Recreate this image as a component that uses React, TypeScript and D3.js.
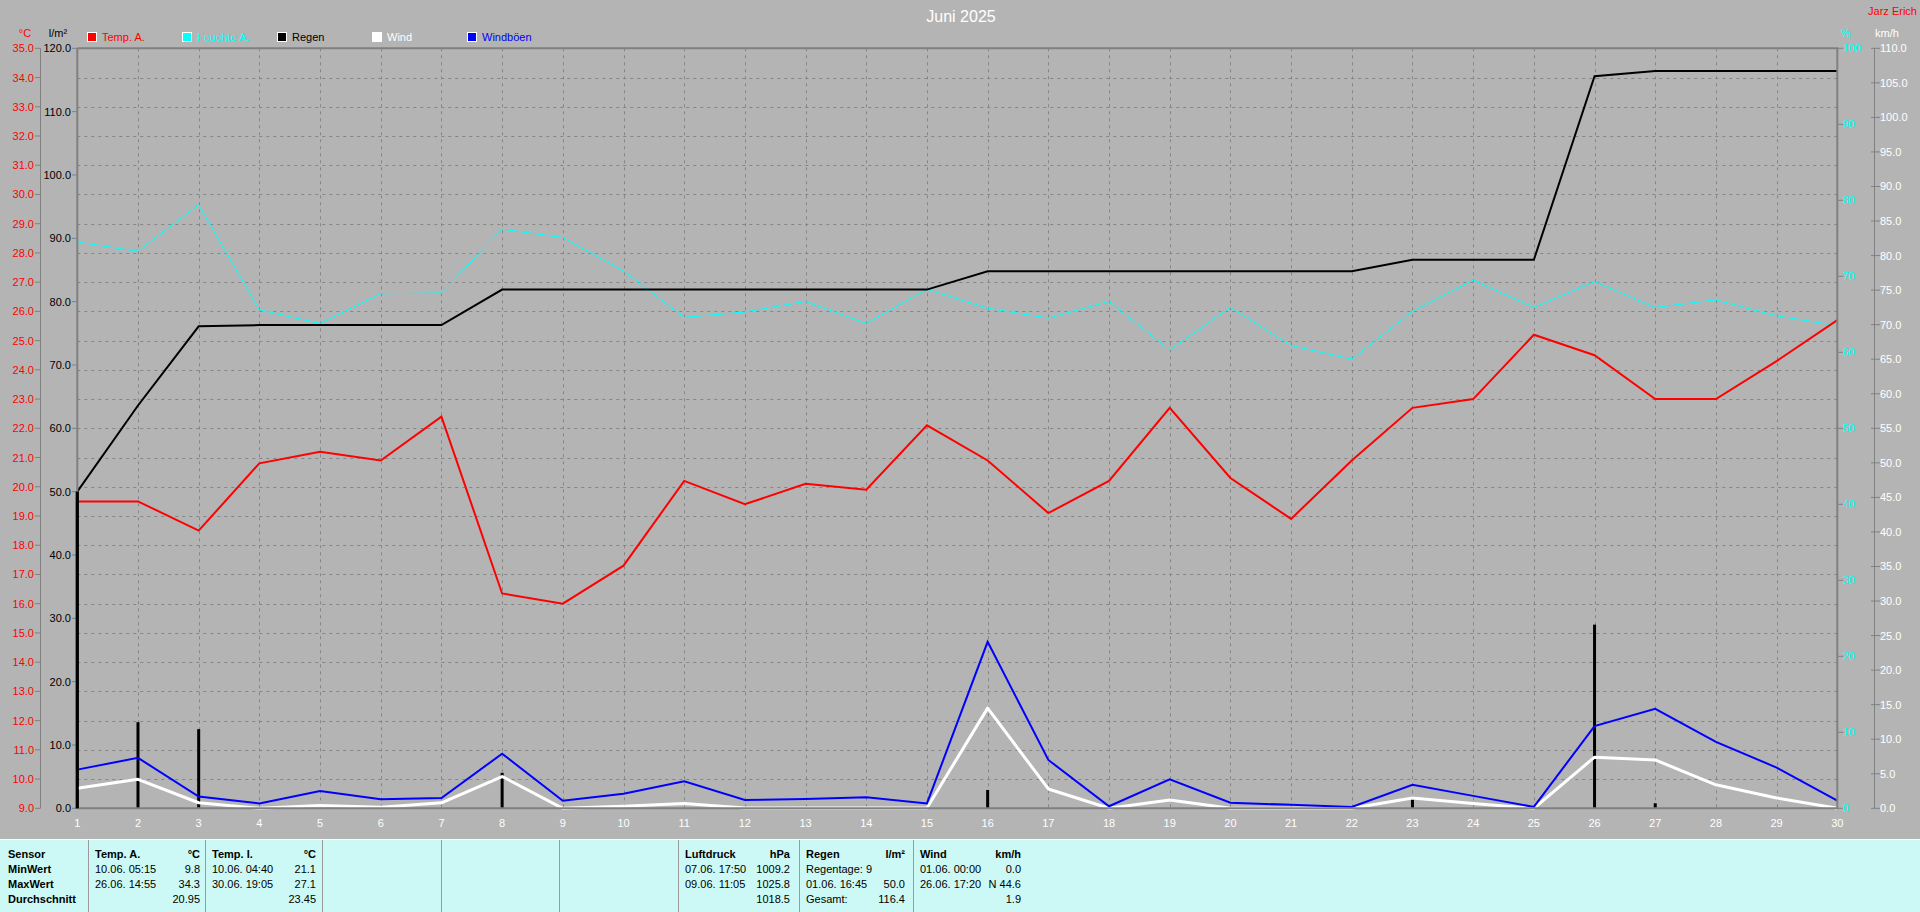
import React from "react";
import * as d3 from "d3";

const days = [1,2,3,4,5,6,7,8,9,10,11,12,13,14,15,16,17,18,19,20,21,22,23,24,25,26,27,28,29,30];
const tempA = [19.5,19.5,18.5,20.8,21.2,20.9,22.4,16.35,16.0,17.3,20.2,19.4,20.1,19.9,22.1,20.9,19.1,20.2,22.7,20.3,18.9,20.9,22.7,23.0,25.2,24.5,23.0,23.0,24.3,25.7];
const humidity = [74.5,73.3,79.4,65.6,63.8,67.7,67.8,76.2,75.1,70.7,64.6,65.3,66.7,63.8,68.3,65.8,64.5,66.7,60.3,65.9,60.9,59.1,65.4,69.5,65.9,69.3,65.9,66.9,64.8,63.5];
const rain = [50.0,13.6,12.5,0.2,0,0,0,5.6,0,0,0,0,0,0,0,2.9,0,0,0,0,0,0,1.8,0,0,29.0,0.8,0,0,0];
const wind = [2.9,4.2,0.8,0,0.4,0.15,0.8,4.6,0,0.3,0.7,0.05,0.05,0.05,0.05,14.5,2.8,0,1.2,0,0,0,1.5,0.7,0,7.4,7.0,3.4,1.5,0];
const gust = [5.6,7.3,1.7,0.7,2.5,1.3,1.5,7.9,1.1,2.1,3.9,1.2,1.35,1.6,0.7,24.1,7.0,0.3,4.2,0.8,0.5,0.2,3.4,1.8,0.2,11.9,14.4,9.6,5.9,1.1];

const tempTicks = d3.range(9, 36, 1);
const rainTicks = d3.range(0, 121, 10);
const humTicks = d3.range(0, 101, 10);
const windTicks = d3.range(0, 111, 5);

const legendItems = [
  { label: "Temp. A.", color: "#ff0000" },
  { label: "Feuchte A.", color: "#00ffff" },
  { label: "Regen", color: "#000000" },
  { label: "Wind", color: "#ffffff" },
  { label: "Windböen", color: "#0000ff" },
];

const tableRowLabels = ["Sensor", "MinWert", "MaxWert", "Durchschnitt"];
const tableCols = [
  { head: "Temp. A.", unit: "°C", left: ["10.06. 05:15", "26.06. 14:55", ""], right: ["9.8", "34.3", "20.95"] },
  { head: "Temp. I.", unit: "°C", left: ["10.06. 04:40", "30.06. 19:05", ""], right: ["21.1", "27.1", "23.45"] },
  { head: "", unit: "", left: ["", "", ""], right: ["", "", ""] },
  { head: "", unit: "", left: ["", "", ""], right: ["", "", ""] },
  { head: "", unit: "", left: ["", "", ""], right: ["", "", ""] },
  { head: "Luftdruck", unit: "hPa", left: ["07.06. 17:50", "09.06. 11:05", ""], right: ["1009.2", "1025.8", "1018.5"] },
  { head: "Regen", unit: "l/m²", left: ["Regentage: 9", "01.06. 16:45", "Gesamt:"], right: ["", "50.0", "116.4"] },
  { head: "Wind", unit: "km/h", left: ["01.06. 00:00", "26.06. 17:20", ""], right: ["0.0", "N 44.6", "1.9"] },
];

const FONT = "'Liberation Sans', Arial, sans-serif";

export default function App() {
  const W = 1920, H = 912;
  const L = 77.3, R = 1837.3, T = 48.3, B = 808.3;
  const x = d3.scaleLinear().domain([1, 30]).range([L, R]);
  const yT = d3.scaleLinear().domain([9, 35]).range([B, T]);
  const yR = d3.scaleLinear().domain([0, 120]).range([B, T]);
  const yH = d3.scaleLinear().domain([0, 100]).range([B, T]);
  const yW = d3.scaleLinear().domain([0, 110]).range([B, T]);

  const cum = Array.from(d3.cumsum(rain));
  const line = (ys: number[], sc: any) =>
    d3.line<number>().x((_, i) => x(days[i])).y((v) => sc(v))(ys) || "";

  const gridCol = "#858585";
  const axisCol = "#808080";

  const colSeps = [88, 205, 322, 441, 559, 678, 799, 913];
  const colRight = [200, 316, 0, 0, 0, 790, 905, 1021];
  const rowY = [858, 873, 888, 903];

  return (
    <div style={{ position: "absolute", left: 0, top: 0, width: W, height: H }}>
      <svg width={W} height={H} style={{ display: "block", fontFamily: FONT }}>
        <rect x={0} y={0} width={W} height={H} fill="#b4b4b4" />
        <text x={961} y={22} fontSize={16} fill="#ffffff" textAnchor="middle">Juni 2025</text>
        <text x={1917} y={15} fontSize={11} fill="#ff0000" textAnchor="end">Jarz Erich</text>

        {legendItems.map((it, i) => (
          <g key={it.label}>
            <rect x={87.5 + i * 95} y={32.5} width={9} height={9} fill={it.color} stroke="#ffffff" strokeWidth={1} />
            <text x={102 + i * 95} y={41} fontSize={11} fill={it.color}>{it.label}</text>
          </g>
        ))}

        <text x={25} y={37} fontSize={11} fill="#ff0000" textAnchor="middle">°C</text>
        <text x={58} y={37} fontSize={11} fill="#000000" textAnchor="middle">l/m²</text>
        <text x={1841} y={37} fontSize={11} fill="#00ffff">%</text>
        <text x={1875} y={37} fontSize={11} fill="#ffffff">km/h</text>

        {tempTicks.slice(1, -1).map((t) => (
          <line key={"hg" + t} x1={L} x2={R} y1={Math.round(yT(t)) + 0.5} y2={Math.round(yT(t)) + 0.5} stroke={gridCol} strokeDasharray="3,4" />
        ))}
        {days.slice(1, -1).map((d) => (
          <line key={"vg" + d} x1={Math.round(x(d)) + 0.5} x2={Math.round(x(d)) + 0.5} y1={T} y2={B} stroke={gridCol} strokeDasharray="3,4" />
        ))}

        <line x1={40.5} x2={40.5} y1={T} y2={B} stroke={axisCol} />
        {tempTicks.map((t) => (
          <g key={"tt" + t}>
            <line x1={35} x2={40.5} y1={yT(t)} y2={yT(t)} stroke={axisCol} />
            <text x={34} y={yT(t) + 4} fontSize={11} fill="#ff0000" textAnchor="end">{t.toFixed(1)}</text>
          </g>
        ))}
        {rainTicks.map((t) => (
          <g key={"rt" + t}>
            <line x1={72} x2={L} y1={yR(t)} y2={yR(t)} stroke={axisCol} />
            <text x={71} y={yR(t) + 4} fontSize={11} fill="#000000" textAnchor="end">{t.toFixed(1)}</text>
          </g>
        ))}
        {humTicks.map((t) => (
          <g key={"ht" + t}>
            <line x1={R} x2={R + 6} y1={yH(t)} y2={yH(t)} stroke={axisCol} />
            <text x={1843} y={yH(t) + 4} fontSize={11} fill="#00ffff">{t}</text>
          </g>
        ))}
        <line x1={1874.5} x2={1874.5} y1={T} y2={B} stroke={axisCol} />
        {windTicks.map((t) => (
          <g key={"wt" + t}>
            <line x1={1871} x2={1880} y1={yW(t)} y2={yW(t)} stroke={axisCol} />
            <text x={1880} y={yW(t) + 4} fontSize={11} fill="#ffffff">{t.toFixed(1)}</text>
          </g>
        ))}
        {days.map((d) => (
          <text key={"xl" + d} x={x(d)} y={827} fontSize={11} fill="#ffffff" textAnchor="middle">{d}</text>
        ))}

        <path d={line(humidity, yH)} fill="none" stroke="#00ffff" strokeWidth={1} />
        <path d={line(cum, yR)} fill="none" stroke="#000000" strokeWidth={2} />
        {rain.map((r, i) => r > 0 ? (
          <rect key={"rb" + i} x={x(days[i]) - 1.5} y={yR(r)} width={3} height={B - yR(r)} fill="#000000" />
        ) : null)}
        <path d={line(wind, yW)} fill="none" stroke="#ffffff" strokeWidth={3} strokeLinejoin="round" />
        <path d={line(gust, yW)} fill="none" stroke="#0000ff" strokeWidth={2} />
        <path d={line(tempA, yT)} fill="none" stroke="#ff0000" strokeWidth={2} />

        <line x1={L} x2={R + 1} y1={T} y2={T} stroke={axisCol} strokeWidth={2} />
        <line x1={L} x2={R + 1} y1={B} y2={B} stroke={axisCol} strokeWidth={2} />
        <line x1={L} x2={L} y1={T} y2={B} stroke={axisCol} strokeWidth={2} />
        <line x1={R} x2={R} y1={T} y2={B} stroke={axisCol} strokeWidth={2} />
        {rain[0] > 0 ? <rect x={x(days[0]) - 1.5} y={yR(rain[0])} width={3} height={B - yR(rain[0])} fill="#000000" /> : null}

        <rect x={0} y={839} width={W} height={H - 839} fill="#ccf9f5" />
        <line x1={0} x2={W} y1={839.5} y2={839.5} stroke="#ffffff" />
        {colSeps.map((s, i) => (
          <line key={"cs" + i} x1={s + 0.5} x2={s + 0.5} y1={840} y2={H} stroke="#9a9a9a" />
        ))}
        {tableRowLabels.map((lab, i) => (
          <text key={"rl" + i} x={8} y={rowY[i]} fontSize={11} fontWeight="bold" fill="#000000">{lab}</text>
        ))}
        {tableCols.map((c, ci) => (
          <g key={"tc" + ci}>
            <text x={colSeps[ci] + 7} y={rowY[0]} fontSize={11} fontWeight="bold" fill="#000">{c.head}</text>
            <text x={colRight[ci]} y={rowY[0]} fontSize={11} fontWeight="bold" fill="#000" textAnchor="end">{c.unit}</text>
            {c.left.map((v, ri) => (
              <text key={"l" + ri} x={colSeps[ci] + 7} y={rowY[ri + 1]} fontSize={11} fill="#000">{v}</text>
            ))}
            {c.right.map((v, ri) => (
              <text key={"r" + ri} x={colRight[ci]} y={rowY[ri + 1]} fontSize={11} fill="#000" textAnchor="end">{v}</text>
            ))}
          </g>
        ))}
      </svg>
    </div>
  );
}
